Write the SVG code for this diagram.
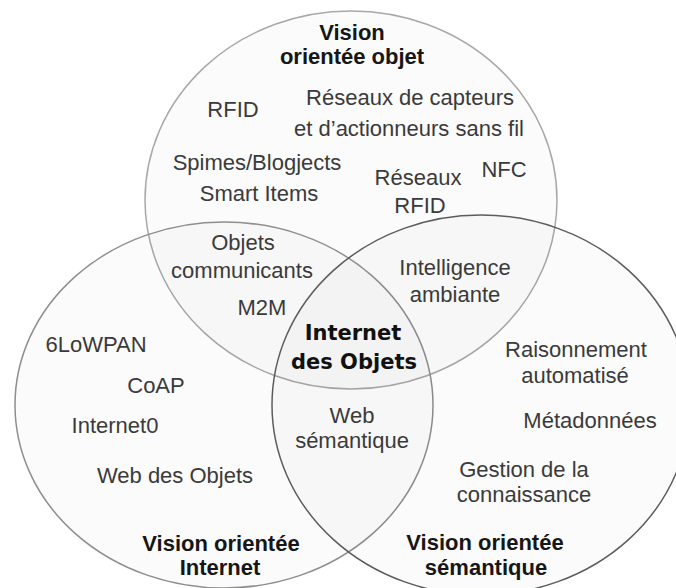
<svg xmlns="http://www.w3.org/2000/svg" width="676" height="588" viewBox="0 0 676 588">
  <style>
    .set { fill: #000; fill-opacity: 0.015; stroke-width: 1.5; }
    .t { font-family: "Liberation Sans", Arial, sans-serif; font-size: 22px; fill: #3a3a3a; text-anchor: middle; }
    .h { font-family: "Liberation Sans", Arial, sans-serif; font-size: 22px; font-weight: bold; fill: #161616; text-anchor: middle; }
    .core { font-family: "DejaVu Sans", Verdana, sans-serif; font-size: 21px; font-weight: bold; fill: #111; text-anchor: middle; }
  </style>
  <rect width="676" height="588" fill="#fff"/>

  <!-- Object-oriented vision -->
  <g id="vision-objet">
    <ellipse class="set" cx="351" cy="200" rx="206" ry="189" stroke="#a8a8a8"/>
    <text class="h" x="352" y="40">Vision</text>
    <text class="h" x="352" y="64">orientée objet</text>
    <text class="t" x="233" y="117">RFID</text>
    <text class="t" x="410" y="105">Réseaux de capteurs</text>
    <text class="t" x="409" y="136">et d’actionneurs sans fil</text>
    <text class="t" x="257" y="170">Spimes/Blogjects</text>
    <text class="t" x="259" y="201">Smart Items</text>
    <text class="t" x="418" y="185">Réseaux</text>
    <text class="t" x="420" y="213">RFID</text>
    <text class="t" x="504" y="177">NFC</text>
  </g>

  <!-- Internet-oriented vision -->
  <g id="vision-internet">
    <ellipse class="set" cx="224" cy="405" rx="209" ry="183" stroke="#8e8e8e"/>
    <text class="t" x="96" y="352">6LoWPAN</text>
    <text class="t" x="156" y="393">CoAP</text>
    <text class="t" x="115" y="433">Internet0</text>
    <text class="t" x="175" y="483">Web des Objets</text>
    <text class="h" x="221" y="551">Vision orientée</text>
    <text class="h" x="220" y="575">Internet</text>
  </g>

  <!-- Semantic-oriented vision -->
  <g id="vision-semantique">
    <ellipse class="set" cx="481" cy="405" rx="209" ry="190" stroke="#5c5c5c"/>
    <text class="t" x="576" y="357">Raisonnement</text>
    <text class="t" x="575" y="383">automatisé</text>
    <text class="t" x="590" y="428">Métadonnées</text>
    <text class="t" x="524" y="477">Gestion de la</text>
    <text class="t" x="524" y="502">connaissance</text>
    <text class="h" x="485" y="550">Vision orientée</text>
    <text class="h" x="486" y="575">sémantique</text>
  </g>

  <!-- Pairwise overlaps -->
  <g id="objet-internet">
    <text class="t" x="243" y="250">Objets</text>
    <text class="t" x="242" y="278">communicants</text>
    <text class="t" x="262" y="315">M2M</text>
  </g>
  <g id="objet-semantique">
    <text class="t" x="455" y="275">Intelligence</text>
    <text class="t" x="455" y="302">ambiante</text>
  </g>
  <g id="internet-semantique">
    <text class="t" x="352" y="423">Web</text>
    <text class="t" x="352" y="448">sémantique</text>
  </g>

  <!-- Common core -->
  <g id="internet-des-objets">
    <text class="core" x="353" y="340">Internet</text>
    <text class="core" x="354" y="369">des Objets</text>
  </g>
</svg>
